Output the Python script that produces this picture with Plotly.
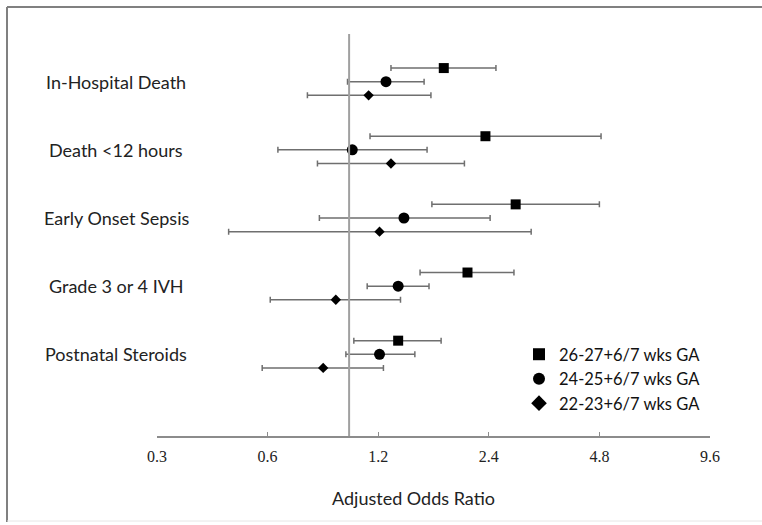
import plotly.graph_objects as go

categories = ["In-Hospital Death", "Death <12 hours", "Early Onset Sepsis",
              "Grade 3 or 4 IVH", "Postnatal Steroids"]

series_names = ["26-27+6/7 wks GA", "24-25+6/7 wks GA", "22-23+6/7 wks GA"]
series_symbols = ["square", "circle", "diamond"]
series_sizes = [10, 11, 8]

or_2627 = [1.81, 2.35, 2.84, 2.10, 1.36]
lo_2627 = [1.30, 1.14, 1.68, 1.56, 1.03]
hi_2627 = [2.51, 4.85, 4.80, 2.81, 1.78]

or_2425 = [1.26, 1.02, 1.41, 1.36, 1.21]
lo_2425 = [0.99, 0.64, 0.83, 1.12, 0.98]
hi_2425 = [1.60, 1.63, 2.42, 1.65, 1.51]

or_2223 = [1.13, 1.30, 1.21, 0.92, 0.85]
lo_2223 = [0.77, 0.82, 0.47, 0.61, 0.58]
hi_2223 = [1.67, 2.06, 3.13, 1.38, 1.24]

tick_vals = [0.3, 0.6, 1.2, 2.4, 4.8, 9.6]
tick_text = ["0.3", "0.6", "1.2", "2.4", "4.8", "9.6"]

offsets = [-0.2, 0.0, 0.2]
ors = [or_2627, or_2425, or_2223]
los = [lo_2627, lo_2425, lo_2223]
his = [hi_2627, hi_2425, hi_2223]

W, H = 762, 525
L, R, T, B = 157, 52, 34, 89
pw, ph = W - L - R, H - T - B

def px_x(p):
    return (p - L) / pw

def px_y(p):
    return (H - B - p) / ph

fig = go.Figure()
for k in range(3):
    ys = [i + offsets[k] for i in range(len(categories))]
    plus = [h - v for h, v in zip(his[k], ors[k])]
    minus = [v - l for v, l in zip(ors[k], los[k])]
    fig.add_trace(go.Scatter(
        x=ors[k], y=ys, mode="markers", name=series_names[k],
        marker=dict(symbol=series_symbols[k], size=series_sizes[k], color="black"),
        error_x=dict(type="data", symmetric=False, array=plus, arrayminus=minus,
                     color="#6f6f6f", thickness=1.5, width=3),
    ))

sans = "Lato, 'Open Sans', sans-serif"
annotations = []
for i, c in enumerate(categories):
    annotations.append(dict(x=px_x(116), xref="paper", y=i, yref="y", text=c,
                            showarrow=False, xanchor="center", yanchor="middle",
                            font=dict(family=sans, size=18, color="#222")))
annotations.append(dict(x=px_x(413), xref="paper", y=px_y(498), yref="paper",
                        text="Adjusted Odds Ratio", showarrow=False,
                        xanchor="center", yanchor="middle",
                        font=dict(family=sans, size=18, color="#222")))

shapes = [
    dict(type="line", xref="x", yref="paper", x0=1.0, x1=1.0, y0=0, y1=1,
         line=dict(color="#a0a0a0", width=2)),
    dict(type="line", xref="paper", yref="paper", x0=px_x(7), x1=px_x(7),
         y0=px_y(7), y1=px_y(522), line=dict(color="#808080", width=2)),
    dict(type="line", xref="paper", yref="paper", x0=px_x(7), x1=px_x(765),
         y0=px_y(7), y1=px_y(7), line=dict(color="#808080", width=2)),
    dict(type="line", xref="paper", yref="paper", x0=px_x(7), x1=px_x(765),
         y0=px_y(521), y1=px_y(521), line=dict(color="#e6e6e6", width=1)),
]

fig.update_layout(
    width=W, height=H,
    margin=dict(l=L, r=R, t=T, b=B),
    paper_bgcolor="white", plot_bgcolor="white",
    showlegend=True,
    legend=dict(x=px_x(519), y=px_y(337), xanchor="left", yanchor="top",
                font=dict(family=sans, size=16.5, color="#111"),
                bgcolor="rgba(0,0,0,0)", itemsizing="constant",
                tracegroupgap=0),
    xaxis=dict(type="log", range=[-0.5229, 0.9823], tickvals=tick_vals,
               ticktext=tick_text, showgrid=False, zeroline=False,
               showline=True, linecolor="#8c8c8c", linewidth=1.5,
               ticks="inside", ticklen=4, tickcolor="#8c8c8c",
               ticklabelstandoff=5,
               tickfont=dict(family="'Liberation Serif', 'Times New Roman', serif",
                             size=16, color="#222")),
    yaxis=dict(range=[5.199, -0.70], visible=False, showgrid=False, zeroline=False),
    annotations=annotations,
    shapes=shapes,
)

fig.write_html("out.html", post_script="document.body.style.margin='0';",
               config={"displayModeBar": False})
